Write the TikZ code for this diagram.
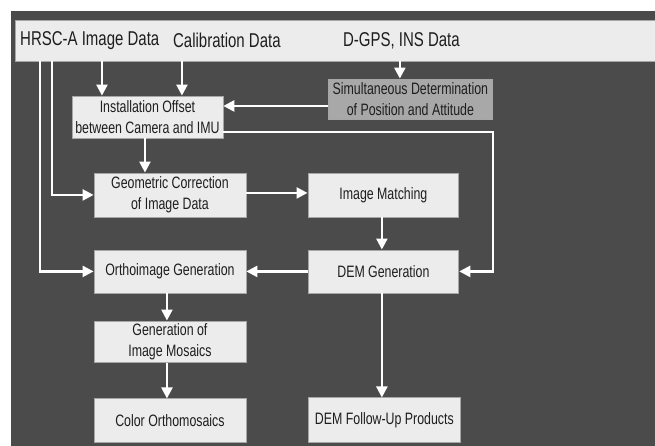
\documentclass[tikz,border=0pt]{standalone}
\usepackage{fontspec}
\setmainfont{Liberation Sans}[FakeStretch=0.75]
\usetikzlibrary{arrows.meta,calc}
\definecolor{bgdark}{HTML}{4B4B4B}
\definecolor{boxfill}{HTML}{ECECEC}
\definecolor{simfill}{HTML}{A8A8A8}
\definecolor{txt}{HTML}{1E1E1E}
\begin{document}
\begin{tikzpicture}[x=1pt,y=-1pt,
  box/.style={draw=gray!70,line width=0.8pt,fill=boxfill,minimum width=#1,inner sep=0pt,align=center,
    font=\fontsize{16.5}{20.5}\selectfont,text=txt},
  box/.default=151pt,
  arr/.style={draw=white,line width=2.3pt,-{Triangle[length=11pt,width=11pt]}},
  ln/.style={draw=white,line width=2.3pt}]
\fill[white] (0,0) rectangle (655,446);
\fill[bgdark] (11,11) rectangle (655,446);
% top bar
\node[draw=gray!70,fill=boxfill,minimum width=640pt,minimum height=41pt,inner sep=0pt] (top) at (335,40.5) {};
\node[anchor=west,font=\fontsize{20}{24}\selectfont,text=txt,inner sep=0pt] (thrsc) at (20,40.5) {HRSC-A Image Data};
\node[anchor=west,font=\fontsize{20}{24}\selectfont,text=txt,inner sep=0pt] (tcal) at (173,40.5) {Calibration Data};
\node[anchor=west,font=\fontsize{20}{24}\selectfont,text=txt,inner sep=0pt] (tgps) at (343,40.5) {D-GPS, INS Data};
% boxes
\node[box=151pt,minimum height=42pt] (inst) at (147.5,117) {Installation Offset\\between Camera and IMU};
\node[box=165pt,minimum height=40pt,fill=simfill] (sim) at (410.5,99) {Simultaneous Determination\\of Position and Attitude};
\node[box=152pt,minimum height=44pt] (geo) at (170,195) {Geometric Correction\\of Image Data};
\node[box=151pt,minimum height=44pt] (match) at (383.5,195) {Image Matching};
\node[box=152pt,minimum height=43pt] (ortho) at (170,271.5) {Orthoimage Generation};
\node[box=151pt,minimum height=43pt] (dem) at (383.5,271.5) {DEM Generation};
\node[box=152pt,minimum height=42pt] (mosaic) at (170,342) {Generation of\\Image Mosaics};
\node[box=152pt,minimum height=44pt] (color) at (170,421) {Color Orthomosaics};
\node[box=153pt,minimum height=45pt] (follow) at (384.5,420.5) {DEM Follow-Up Products};
% helper coordinates
\coordinate (xa) at (40,0);
\coordinate (xb) at (52,0);
\coordinate (xc) at (102,0);
\coordinate (xd) at (182,0);
\coordinate (xe) at (400,0);
\coordinate (xf) at (493,0);
\coordinate (ysim) at (0,106);
\coordinate (yinst) at (0,132);
\coordinate (ycol) at (167,0);
\coordinate (ymatch) at (0,193);
% connectors
\draw[arr] (top.south -| xa) |- (ortho.west);
\draw[arr] (top.south -| xb) |- (geo.west);
\draw[arr] (top.south -| xc) -- (inst.north -| xc);
\draw[arr] (top.south -| xd) -- (inst.north -| xd);
\draw[arr] (top.south -| xe) -- (sim.north -| xe);
\draw[arr] (sim.west |- ysim) -- (inst.east |- ysim);
\draw[arr] (inst.east |- yinst) -| (xf |- dem.east) -- (dem.east);
\draw[arr] (inst.south -| 145,0) -- (geo.north -| 145,0);
\draw[arr] (geo.east |- ymatch) -- (match.west |- ymatch);
\draw[arr] (match.south -| 382,0) -- (dem.north -| 382,0);
\draw[arr] (dem.west) -- (ortho.east);
\draw[arr] (ortho.south -| ycol) -- (mosaic.north -| ycol);
\draw[arr] (mosaic.south -| ycol) -- (color.north -| ycol);
\draw[arr] (dem.south -| 382,0) -- (follow.north -| 382,0);
\end{tikzpicture}
\end{document}
